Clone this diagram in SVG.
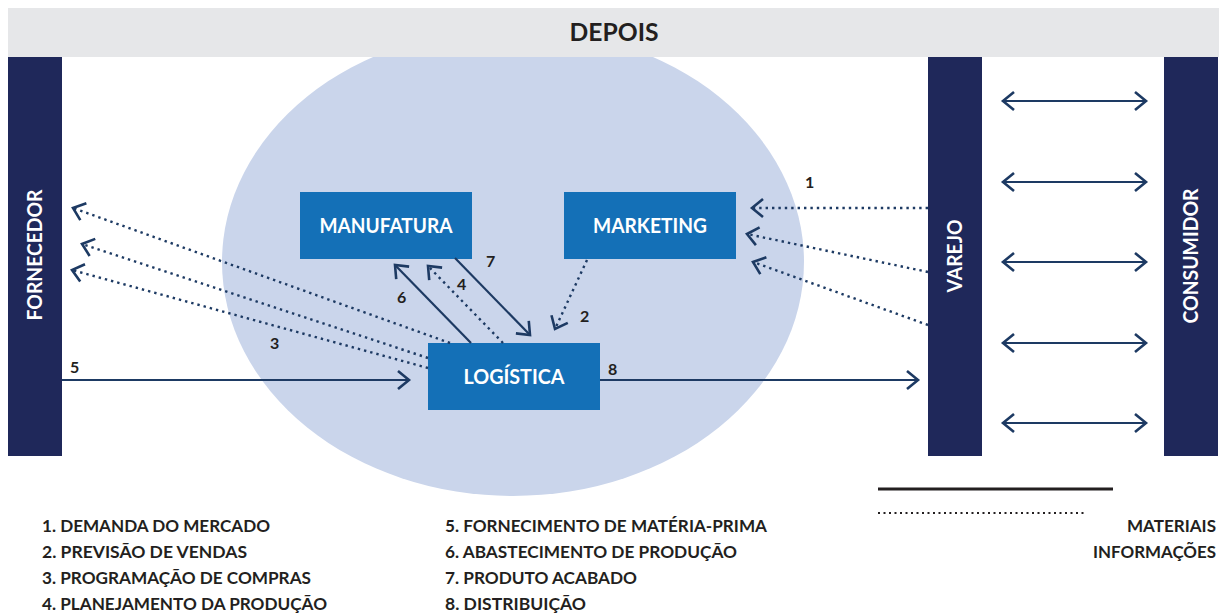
<svg xmlns="http://www.w3.org/2000/svg" width="1219" height="616" viewBox="0 0 1219 616">
<defs>
<style>
.bar{fill:#1f285a}
.box{fill:#1470b7}
.wt{fill:#ffffff;font-family:"Lato","Liberation Sans",sans-serif;font-weight:bold}
.dk{fill:#231f20;font-family:"Lato","Liberation Sans",sans-serif;font-weight:bold}
.sol{stroke:#1d3a63;stroke-width:2.2;fill:none}
.dot{stroke:#1d3a63;stroke-width:2.4;fill:none;stroke-dasharray:2.4 4}
</style>
<marker id="ah" markerUnits="userSpaceOnUse" markerWidth="30" markerHeight="30" refX="0" refY="0" viewBox="-15 -15 30 30" orient="auto-start-reverse" overflow="visible">
<path d="M -11 -9 L 0 0 L -11 9" fill="none" stroke="#1d3a63" stroke-width="2.6" stroke-dasharray="none"/>
</marker>
</defs>
<rect width="1219" height="616" fill="#ffffff"/>
<ellipse cx="513" cy="262" rx="291" ry="234" fill="#cad5eb"/>
<g id="header">
<rect x="8" y="8" width="1211" height="49" fill="#e6e7e9"/>
<text class="dk" x="614" y="41" font-size="25" text-anchor="middle" textLength="89" lengthAdjust="spacingAndGlyphs">DEPOIS</text>
</g>
<g id="fornecedor">
<rect class="bar" x="8" y="57" width="54" height="399"/>
<text class="wt" transform="translate(42,255) rotate(-90)" font-size="20" text-anchor="middle" textLength="131" lengthAdjust="spacingAndGlyphs">FORNECEDOR</text>
</g>
<g id="varejo">
<rect class="bar" x="928" y="57" width="54" height="399"/>
<text class="wt" transform="translate(962,256) rotate(-90)" font-size="20" text-anchor="middle" textLength="73" lengthAdjust="spacingAndGlyphs">VAREJO</text>
</g>
<g id="consumidor">
<rect class="bar" x="1164" y="57" width="54" height="399"/>
<text class="wt" transform="translate(1198,256) rotate(-90)" font-size="20" text-anchor="middle" textLength="135" lengthAdjust="spacingAndGlyphs">CONSUMIDOR</text>
</g>
<g id="manufatura">
<rect class="box" x="300" y="192" width="172" height="67"/>
<text class="wt" x="386" y="233" font-size="20" text-anchor="middle" textLength="133" lengthAdjust="spacingAndGlyphs">MANUFATURA</text>
</g>
<g id="marketing">
<rect class="box" x="564" y="192" width="172" height="67"/>
<text class="wt" x="650" y="233" font-size="20" text-anchor="middle" textLength="114" lengthAdjust="spacingAndGlyphs">MARKETING</text>
</g>
<g id="logistica">
<rect class="box" x="428" y="343" width="172" height="67"/>
<text class="wt" x="514" y="384" font-size="20" text-anchor="middle" textLength="101" lengthAdjust="spacingAndGlyphs">LOGÍSTICA</text>
</g>
<g id="connectors">
<line class="sol" x1="62" y1="380" x2="409" y2="380" marker-end="url(#ah)"/>
<line class="sol" x1="600" y1="380" x2="918" y2="380" marker-end="url(#ah)"/>
<line class="dot" x1="450" y1="343" x2="73" y2="208" marker-end="url(#ah)"/>
<line class="dot" x1="428" y1="358" x2="82" y2="244" marker-end="url(#ah)"/>
<line class="dot" x1="428" y1="368" x2="72" y2="270" marker-end="url(#ah)"/>
<line class="sol" x1="471" y1="343" x2="395" y2="265" marker-end="url(#ah)"/>
<line class="dot" x1="503" y1="343" x2="428" y2="266" marker-end="url(#ah)"/>
<line class="sol" x1="455" y1="258" x2="530" y2="335" marker-end="url(#ah)"/>
<line class="dot" x1="587" y1="260" x2="555" y2="329" marker-end="url(#ah)"/>
<line class="dot" x1="928" y1="208" x2="752" y2="208" marker-end="url(#ah)"/>
<line class="dot" x1="928" y1="272" x2="747" y2="234" marker-end="url(#ah)"/>
<line class="dot" x1="928" y1="325" x2="753" y2="262" marker-end="url(#ah)"/>
<line class="sol" x1="1003" y1="101" x2="1146" y2="101" marker-start="url(#ah)" marker-end="url(#ah)"/>
<line class="sol" x1="1003" y1="182" x2="1146" y2="182" marker-start="url(#ah)" marker-end="url(#ah)"/>
<line class="sol" x1="1003" y1="262" x2="1146" y2="262" marker-start="url(#ah)" marker-end="url(#ah)"/>
<line class="sol" x1="1003" y1="343" x2="1146" y2="343" marker-start="url(#ah)" marker-end="url(#ah)"/>
<line class="sol" x1="1003" y1="423" x2="1146" y2="423" marker-start="url(#ah)" marker-end="url(#ah)"/>
</g>
<g id="numbers" font-size="16">
<text class="dk" x="70" y="373">5</text>
<text class="dk" x="608" y="375">8</text>
<text class="dk" x="270" y="349">3</text>
<text class="dk" x="397" y="303">6</text>
<text class="dk" x="457" y="290">4</text>
<text class="dk" x="486" y="267">7</text>
<text class="dk" x="580" y="322">2</text>
<text class="dk" x="805" y="188">1</text>
</g>
<g id="legend" font-size="17">
<text class="dk" x="42" y="532" textLength="228" lengthAdjust="spacingAndGlyphs">1. DEMANDA DO MERCADO</text>
<text class="dk" x="42" y="558" textLength="205" lengthAdjust="spacingAndGlyphs">2. PREVISÃO DE VENDAS</text>
<text class="dk" x="42" y="584" textLength="269" lengthAdjust="spacingAndGlyphs">3. PROGRAMAÇÃO DE COMPRAS</text>
<text class="dk" x="42" y="610" textLength="285" lengthAdjust="spacingAndGlyphs">4. PLANEJAMENTO DA PRODUÇÃO</text>
<text class="dk" x="445" y="532" textLength="322" lengthAdjust="spacingAndGlyphs">5. FORNECIMENTO DE MATÉRIA-PRIMA</text>
<text class="dk" x="445" y="558" textLength="292" lengthAdjust="spacingAndGlyphs">6. ABASTECIMENTO DE PRODUÇÃO</text>
<text class="dk" x="445" y="584" textLength="192" lengthAdjust="spacingAndGlyphs">7. PRODUTO ACABADO</text>
<text class="dk" x="445" y="610" textLength="141" lengthAdjust="spacingAndGlyphs">8. DISTRIBUIÇÃO</text>
<line x1="878" y1="489" x2="1113" y2="489" stroke="#231f20" stroke-width="3"/>
<line x1="878" y1="513" x2="1087" y2="513" stroke="#231f20" stroke-width="2.2" stroke-dasharray="2 3.5"/>
<text class="dk" x="1216" y="532" text-anchor="end" textLength="89" lengthAdjust="spacingAndGlyphs">MATERIAIS</text>
<text class="dk" x="1216" y="558" text-anchor="end" textLength="123" lengthAdjust="spacingAndGlyphs">INFORMAÇÕES</text>
</g>
</svg>
